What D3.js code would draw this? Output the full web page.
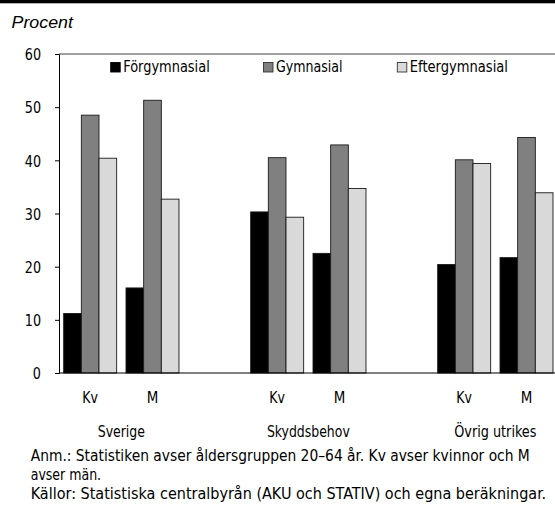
<!DOCTYPE html>
<html>
<head>
<meta charset="utf-8">
<script src="https://cdn.jsdelivr.net/npm/d3@7"></script>
<style>
  html, body { margin: 0; padding: 0; background: #fff; }
  svg { display: block; }
  .nar { font-family: "Liberation Sans Narrow", "Arial Narrow", "DejaVu Sans Condensed", sans-serif; font-stretch: condensed; }
</style>
</head>
<body>
<svg id="chart" width="555" height="508"></svg>
<script>
// ---- Data ----
const groups = ["Sverige", "Skyddsbehov", "Övrig utrikes"];
const sexes = ["Kv", "M"];
const series = ["Förgymnasial", "Gymnasial", "Eftergymnasial"];
const forgymnasial   = [11.2, 16.0, 30.3, 22.5, 20.4, 21.7];
const gymnasial      = [48.5, 51.3, 40.5, 42.9, 40.1, 44.3];
const eftergymnasial = [40.4, 32.7, 29.3, 34.7, 39.4, 33.9];
const yTicks = [0, 10, 20, 30, 40, 50, 60];
const colors = ["#000000", "#808080", "#d9d9d9"];
const yLabel = "Procent";
const note1 = "Anm.: Statistiken avser åldersgruppen 20–64 år. Kv avser kvinnor och M";
const note2 = "avser män.";
const note3 = "Källor: Statistiska centralbyrån (AKU och STATIV) och egna beräkningar.";

// ---- Layout (text widths to mimic the condensed typeface) ----
const groupLabelW = { "Sverige": 47.3, "Skyddsbehov": 83, "Övrig utrikes": 82.3 };
const sexLabelW = { "Kv": 15.6, "M": 11.6 };
const legendW = [86.6, 66.6, 98.3];
const noteW = [499.3, 70.5, 516];

// place a text at (x,y) and squeeze it horizontally to a target width
function placeText(sel, x, yy, target) {
  sel.attr("x", 0).attr("y", 0);
  const w = sel.node().getComputedTextLength();
  const sx = target / w;
  sel.attr("transform", `translate(${x},${yy}) scale(${sx},1)`);
}

// ---- Build slots (each group: Kv, M, empty slot) ----
const slots = [];
groups.forEach(g => {
  sexes.forEach(s => slots.push({ id: g + "|" + s, group: g, sex: s }));
  slots.push({ id: g + "|gap", group: g, sex: null });
});
const seriesValues = [forgymnasial, gymnasial, eftergymnasial];
const bars = [];
let k = 0;
groups.forEach(g => {
  sexes.forEach(s => {
    series.forEach((ser, si) => {
      bars.push({ slot: g + "|" + s, series: ser, si, value: seriesValues[si][k] });
    });
    k++;
  });
});

const svg = d3.select("#chart");
const mLeft = 59, mTop = 54, mBottom = 373, mRightEnd = 620;

const x0 = d3.scaleBand().domain(slots.map(d => d.id)).range([mLeft, mRightEnd])
  .paddingInner(0.15).paddingOuter(0.075);
const x1 = d3.scaleBand().domain(series).range([0, x0.bandwidth()]);
const y = d3.scaleLinear().domain([0, 60]).range([mBottom, mTop]);

// top black rule
svg.append("rect").attr("x", 0).attr("y", 0).attr("width", 555).attr("height", 3.3).attr("fill", "#000");

// Procent label
svg.append("text")
  .attr("font-family", "Liberation Sans, Arial, sans-serif").attr("font-style", "italic")
  .attr("font-size", 17).attr("fill", "#000").text(yLabel)
  .call(placeText, 11.5, 27.5, 61.5);

// plot frame top line
svg.append("line").attr("x1", mLeft).attr("x2", mRightEnd).attr("y1", y(60)).attr("y2", y(60))
  .attr("stroke", "#404040").attr("stroke-width", 1);

// bars
svg.append("g").selectAll("rect").data(bars).join("rect")
  .attr("x", d => x0(d.slot) + x1(d.series))
  .attr("y", d => y(d.value))
  .attr("width", x1.bandwidth())
  .attr("height", d => y(0) - y(d.value))
  .attr("fill", d => colors[d.si])
  .attr("stroke", "#1a1a1a").attr("stroke-width", 0.9);

// y axis
const yAxis = d3.axisLeft(y).tickValues(yTicks).tickSize(4).tickPadding(18).tickFormat(d3.format("d"));
const gy = svg.append("g").attr("transform", `translate(${mLeft},0)`).call(yAxis);
gy.select(".domain").attr("stroke", "#000");
gy.selectAll(".tick line").attr("stroke", "#000");
gy.selectAll(".tick text").attr("class", "nar").attr("font-size", 16.5).attr("fill", "#000")
  .attr("dy", "0.35em")
  .attr("x", 0).attr("transform", "translate(-18,0) scale(0.86,1)");

// x axis line
svg.append("line").attr("x1", mLeft).attr("x2", mRightEnd).attr("y1", mBottom).attr("y2", mBottom)
  .attr("stroke", "#000").attr("stroke-width", 1);

// sex labels
svg.append("g").selectAll("text").data(slots.filter(d => d.sex)).join("text")
  .attr("class", "nar").attr("font-size", 16.5).attr("fill", "#000")
  .attr("text-anchor", "middle")
  .text(d => d.sex)
  .each(function (d) {
    placeText(d3.select(this), x0(d.id) + x0.bandwidth() / 2, 402.5, sexLabelW[d.sex]);
  });

// group labels
svg.append("g").selectAll("text").data(groups).join("text")
  .attr("class", "nar").attr("font-size", 16.5).attr("fill", "#000")
  .attr("text-anchor", "middle")
  .text(g => g)
  .each(function (g) {
    placeText(d3.select(this), (x0(g + "|Kv") + x0(g + "|M") + x0.bandwidth()) / 2, 436.5, groupLabelW[g]);
  });

// legend
const legendX = [110.7, 263.5, 397.3];
const lg = svg.append("g");
series.forEach((s, i) => {
  lg.append("rect").attr("x", legendX[i]).attr("y", 62.5).attr("width", 9.5).attr("height", 9.5)
    .attr("fill", colors[i]).attr("stroke", i === 0 ? "#000" : "#333").attr("stroke-width", 0.9);
  lg.append("text").attr("class", "nar").attr("font-size", 16.5).attr("fill", "#000")
    .text(s).call(placeText, legendX[i] + 12.5, 72.3, legendW[i]);
});

// notes
const notes = [note1, note2, note3];
const noteY = [460.5, 479.5, 498.5];
notes.forEach((n, i) => {
  svg.append("text").attr("class", "nar").attr("font-size", 16.5).attr("fill", "#000")
    .text(n).call(placeText, 30.7, noteY[i], noteW[i]);
});
</script>
</body>
</html>
